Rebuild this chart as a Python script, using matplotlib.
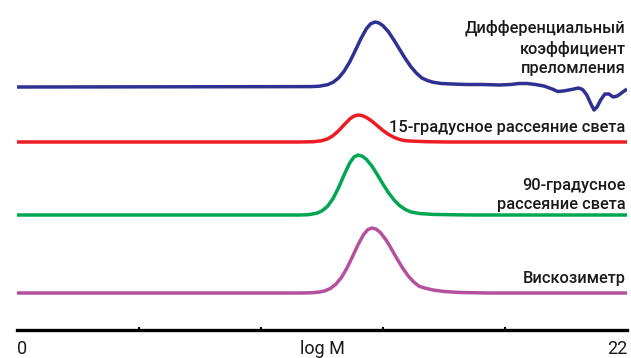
'''
Stacked detector traces for a GPC run: RI, LS15, LS90 and viscometer.
'''

import numpy as np
import matplotlib.pyplot as plt

#------
#data (x in log M units 0..22, y = signal above baseline)
ri_x = [0, 8.4, 10.6, 10.9, 11.2, 11.4, 11.6, 11.8, 12.0, 12.2, 12.4, 12.6,
        12.75, 12.91, 13.05, 13.2, 13.4, 13.6, 13.8, 14.0, 14.2, 14.4, 14.6,
        14.8, 15.0, 15.3, 15.7, 16.2, 16.8, 17.4, 17.8, 18.1, 18.4, 18.7,
        19.0, 19.3, 19.5, 19.7, 20.0, 20.25, 20.4, 20.55, 20.7, 20.81, 20.92,
        21.05, 21.2, 21.35, 21.5, 21.65, 21.8, 22.0]
ri_y = [0, 0.3, 0.4, 0.8, 2.3, 4.7, 9.1, 15.9, 25.1, 36.4, 48.2, 58.2,
        63.1, 65, 64.1, 61.3, 55.1, 46.7, 37.6, 28.6, 20.5, 14.0, 9.0,
        6.5, 4.8, 3.5, 3, 2.5, 2.5, 2, 2.5, 3.5, 3.5, 2.5,
        1, -2, -4.5, -4, -2.5, -1, -2.5, -8, -17, -23, -20,
        -13, -7, -7, -10, -9, -6, -2]

ls15_x = [0, 10.2, 10.7, 11.0, 11.2, 11.4, 11.6, 11.8, 12.0, 12.15, 12.3,
          12.45, 12.6, 12.8, 13.0, 13.2, 13.4, 13.6, 13.8, 14.0, 14.3, 14.8,
          15.5, 22.0]
ls15_y = [0, 0, 0.3, 1.35, 3.1, 6.4, 11.3, 17.3, 23.0, 25.9, 27,
          26.4, 24.6, 20.8, 16.2, 11.5, 7.6, 4.6, 2.5, 1.3, 0.8, 0.3,
          0, 0]

ls90_x = [0, 10.2, 10.5, 10.8, 11.0, 11.2, 11.4, 11.6, 11.8, 12.0, 12.15,
          12.3, 12.45, 12.6, 12.8, 13.0, 13.2, 13.4, 13.6, 13.8, 14.0, 14.2,
          14.5, 15.0, 15.8, 16.5, 22.0]
ls90_y = [0, 0, 0.3, 1.7, 4.1, 8.7, 16.5, 27.5, 40.3, 52.0, 57.9,
          60, 58.9, 55.7, 48.9, 40.1, 30.8, 22.2, 15.0, 9.4, 5.6, 3.1,
          1.5, 0.6, 0.2, 0, 0]

visc_x = [0, 10.2, 10.6, 10.9, 11.1, 11.3, 11.5, 11.7, 11.9, 12.1, 12.3,
          12.5, 12.65, 12.8, 12.95, 13.1, 13.3, 13.5, 13.7, 13.9, 14.1, 14.3,
          14.5, 14.7, 15.0, 15.4, 16.0, 17.0, 22.0]
visc_y = [0, 0, 0.2, 0.9, 2.1, 4.5, 8.8, 15.5, 24.9, 36.4, 48.3,
          58.4, 63.3, 65, 63.9, 60.6, 53.5, 44.3, 34.5, 25.3, 17.4, 11.2,
          6.8, 5, 3, 1.5, 0.5, 0, 0]

labels = ['Дифференциальный\nкоэффициент\nпреломления',
          '15-градусное рассеяние света',
          '90-градусное\nрассеяние света',
          'Вискозиметр']
tick_labels = ['0', 'log M', '22']

#------
#layout / style
baselines = [243, 188, 115, 37]
label_y = [257, 198, 121, 47]   # baseline of the last line of each label
colors = ['#2e3192', '#ed1c24', '#00a651', '#b5509f']

plt.rcParams['font.family'] = ['Roboto', 'DejaVu Sans']

fig = plt.figure(figsize=(6.31, 3.58), dpi=100)
ax = fig.add_axes([17 / 631, 28 / 358, 610 / 631, 330 / 358])

series = [(ri_x, ri_y), (ls15_x, ls15_y), (ls90_x, ls90_y), (visc_x, visc_y)]
for (xs, ys), base, col in zip(series, baselines, colors):
    ax.plot(np.array(xs), np.array(ys) + base, color=col, lw=2.5,
            solid_capstyle='butt', solid_joinstyle='round')

for lab, ly in zip(labels, label_y):
    ax.text(21.95, ly, lab, ha='right', va='baseline', fontsize=11.8,
            fontweight='medium', color='#1a1a1a', linespacing=1.36)

ax.set_xlim(0, 22)
ax.set_ylim(0, 330)
for s in ['top', 'right', 'left']:
    ax.spines[s].set_visible(False)
ax.spines['bottom'].set_linewidth(2.4)
ax.set_yticks([])
ax.set_xticks([0, 11, 22])
ax.set_xticklabels(tick_labels, fontsize=13, color='#1a1a1a')
ax.tick_params(axis='x', length=0, pad=7)
tl = ax.get_xticklabels()
tl[0].set_ha('left')
tl[2].set_ha('right')
ax.set_xticks(np.linspace(0, 22, 6), minor=True)
ax.tick_params(axis='x', which='minor', length=2, width=1.5, direction='in')

fig.savefig('out.png', dpi=100)
